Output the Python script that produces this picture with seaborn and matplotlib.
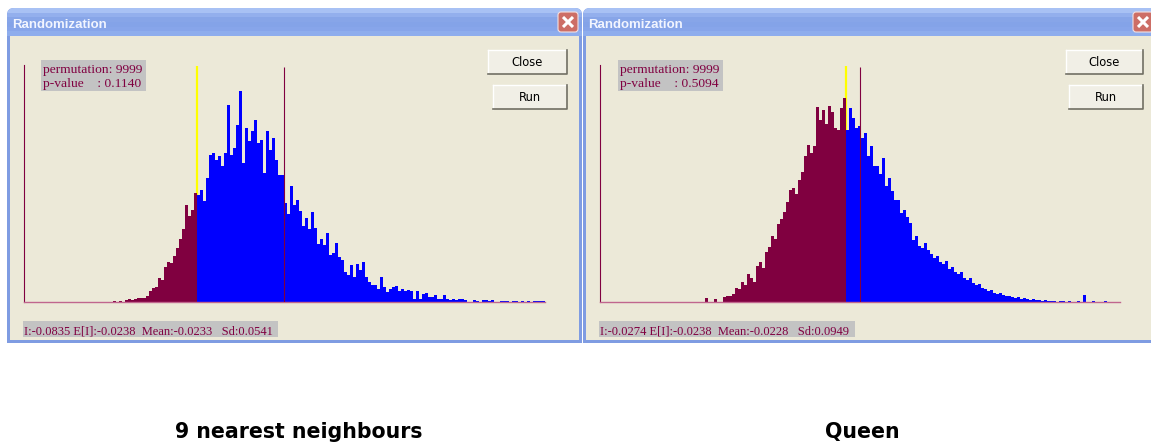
import numpy as np
import pandas as pd
import matplotlib
matplotlib.use("Agg")
import matplotlib.pyplot as plt
import seaborn as sns
from matplotlib.patches import Rectangle, FancyBboxPatch

# ---------------- data (bin counts) ----------------
# Left window: "9 nearest neighbours"
left_below = [1, 0, 1, 0, 2, 3, 2, 3, 4, 4, 4, 6, 11, 14, 15, 24, 22, 35, 40, 39,
              46, 54, 63, 73, 97, 86, 92, 109]
left_above = [107, 112, 101, 124, 147, 149, 142, 146, 136, 149, 197, 147, 154, 177, 211, 139,
              174, 161, 171, 182, 159, 162, 129, 171, 152, 164, 142, 127, 127, 99, 88, 116,
              97, 102, 91, 76, 84, 73, 90, 74, 58, 63, 57, 69, 47, 49, 59, 45, 42, 30,
              27, 37, 25, 38, 32, 40, 25, 20, 17, 17, 13, 25, 15, 10, 13, 15, 16, 11,
              13, 11, 12, 11, 3, 11, 3, 8, 9, 5, 5, 7, 3, 3, 7, 3, 2, 3, 2, 3, 3, 2,
              0, 0, 2, 1, 0, 2, 2, 1, 2, 0, 0, 1, 1, 1, 0, 1, 1, 0, 1, 0, 1, 0, 1, 1, 1, 1]
left_obs_bin = 28.0      # observed I (yellow line)
left_ref_bin = 57.0      # reference line (dark red)

# Right window: "Queen"
right_below = [4, 0, 0, 3, 0, 0, 5, 6, 6, 8, 14, 13, 20, 17, 28, 24, 20, 36, 40, 34,
               50, 55, 66, 63, 78, 83, 90, 100, 112, 114, 108, 122, 130, 146, 157, 149,
               156, 195, 182, 192, 178, 196, 190, 174, 172, 194, 204]
right_above = [172, 194, 184, 174, 176, 164, 169, 146, 156, 136, 136, 128, 144, 116, 124,
               111, 102, 102, 89, 92, 85, 79, 62, 66, 56, 54, 59, 52, 48, 44, 46, 40, 38,
               41, 33, 35, 30, 28, 30, 24, 22, 24, 19, 17, 18, 14, 13, 11, 12, 9, 8, 9,
               7, 6, 6, 5, 4, 5, 3, 4, 3, 2, 3, 2, 2, 1, 2, 1, 1, 1, 0, 1, 1, 0, 1, 0,
               0, 1, 0, 7, 0, 0, 1, 0, 0, 0, 1, 0, 0, 0, 0]
right_obs_bin = 47.0
right_ref_bin = 51.67

window_titles = ["Randomization", "Randomization"]
perm_texts = ["permutation: 9999\np-value    : 0.1140",
              "permutation: 9999\np-value    : 0.5094"]
stat_texts = ["I:-0.0835 E[I]:-0.0238  Mean:-0.0233   Sd:0.0541",
              "I:-0.0274 E[I]:-0.0238  Mean:-0.0228   Sd:0.0949"]
button_labels = ["Close", "Run"]
captions = ["9 nearest neighbours", "Queen"]

# ---------------- style ----------------
MAROON = "#800040"
BLUE = "#0000FF"
BODY = "#ECE9D8"
FRAME = "#7F9CE2"

W, H = 1151, 444
fig = plt.figure(figsize=(W / 100, H / 100), dpi=100)
fig.patch.set_facecolor("white")
bg = fig.add_axes([0, 0, 1, 1])
bg.set_xlim(0, W)
bg.set_ylim(H, 0)
bg.axis("off")

grad = np.array([[0.66, 0.76, 0.96], [0.58, 0.69, 0.93], [0.53, 0.65, 0.91],
                 [0.52, 0.64, 0.91], [0.53, 0.65, 0.92], [0.56, 0.68, 0.93]])
grad = grad[:, None, :]


def draw_window(x0, x1, idx, close_x, close_btn_x, run_btn_x, btn_right, box_x, stat_x, stat_w):
    y0, y1 = 8, 343
    frame = FancyBboxPatch((x0, y0), x1 - x0, 40, boxstyle="round,pad=0,rounding_size=7",
                           fc=FRAME, ec="none")
    bg.add_patch(frame)
    bg.add_patch(Rectangle((x0, y0 + 20), x1 - x0, y1 - y0 - 20, fc=FRAME, ec="none"))
    im = bg.imshow(grad, extent=(x0, x1, 36, y0), aspect="auto", zorder=1)
    im.set_clip_path(frame)
    bg.add_patch(Rectangle((x0 + 3, 36), x1 - x0 - 6, y1 - 36 - 3, fc=BODY, ec="none", zorder=2))
    bg.text(x0 + 5, 28, window_titles[idx], color="#F2F5FF", fontsize=9.5, fontweight="bold",
            family="Liberation Sans", va="baseline", ha="left", zorder=3)
    # close "X" button
    bg.add_patch(FancyBboxPatch((close_x, 12), 20, 20, boxstyle="round,pad=0,rounding_size=3",
                                fc="#CD6E66", ec="#F4E0E0", lw=0.8, zorder=3))
    bg.plot([close_x + 5, close_x + 15], [17, 27], color="white", lw=2.2, zorder=4,
            solid_capstyle="butt")
    bg.plot([close_x + 5, close_x + 15], [27, 17], color="white", lw=2.2, zorder=4,
            solid_capstyle="butt")
    # Close / Run buttons
    for bx, by, lab in [(close_btn_x, 50, button_labels[0]), (run_btn_x, 85, button_labels[1])]:
        bw, bh = btn_right - bx, 24
        bg.add_patch(Rectangle((bx, by), bw, bh, fc="#F1EFE6", ec="none", zorder=3))
        bg.plot([bx, bx + bw], [by, by], color="white", lw=1, zorder=4)
        bg.plot([bx, bx], [by, by + bh], color="white", lw=1, zorder=4)
        bg.plot([bx, bx + bw, bx + bw], [by + bh, by + bh, by], color="#716F64", lw=1.2, zorder=4)
        bg.text(bx + bw / 2, by + bh / 2 + 0.5, lab, fontsize=8.3, family="DejaVu Sans",
                color="black", ha="center", va="center", zorder=5)
    # permutation box
    bg.add_patch(Rectangle((box_x, 60), 105, 31, fc="#C3C3C3", ec="none", zorder=3))
    l1, l2 = perm_texts[idx].split("\n")
    bg.text(box_x + 2, 72.5, l1, fontsize=9.7, family="Liberation Serif", color=MAROON,
            va="baseline", zorder=4)
    bg.text(box_x + 2, 87, l2, fontsize=9.7, family="Liberation Serif", color=MAROON,
            va="baseline", zorder=4)
    # stats box
    bg.add_patch(Rectangle((stat_x, 321), stat_w, 16, fc="#C3C3C3", ec="none", zorder=3))
    bg.text(stat_x + 1, 334, stat_texts[idx], fontsize=9.0, family="Liberation Serif",
            color=MAROON, va="baseline", zorder=4)


draw_window(7, 582, 0, 558, 488, 493, 567, 41, 23, 255)
draw_window(583, 1160, 1, 1133, 1066, 1069, 1143, 618, 599, 256)

for cx, txt in zip([299, 862], captions):
    bg.text(cx, 437.5, txt, fontsize=14.8, fontweight="bold", family="DejaVu Sans",
            ha="center", va="baseline", color="black")


def draw_hist(x_left_px, x_right_px, start_px, below, above, obs, ref):
    ax = fig.add_axes([x_left_px / W, (H - 302) / H, (x_right_px - x_left_px) / W, (302 - 65) / H])
    ax.patch.set_alpha(0)
    nb, na = len(below), len(above)
    df_b = pd.DataFrame({"bin": np.arange(nb) + 0.5, "count": below})
    df_a = pd.DataFrame({"bin": np.arange(nb, nb + na) + 0.5, "count": above})
    sns.histplot(data=df_b, x="bin", weights="count", bins=nb, binrange=(0, nb),
                 color=MAROON, alpha=1, linewidth=0, antialiased=False, ax=ax, zorder=2)
    sns.histplot(data=df_a, x="bin", weights="count", bins=na, binrange=(nb, nb + na),
                 color=BLUE, alpha=1, linewidth=0, antialiased=False, ax=ax, zorder=2)
    ax.set_xlim((x_left_px - start_px) / 3, (x_right_px - start_px) / 3)
    ax.set_ylim(0, 237)
    ax.vlines(obs, 0, 236, color="#FFFF00", lw=1.6, zorder=1)
    ax.vlines(ref, 0, 235, color=MAROON, lw=0.8, zorder=3)
    for s in ["top", "right"]:
        ax.spines[s].set_visible(False)
    ax.spines["left"].set_color(MAROON)
    ax.spines["left"].set_linewidth(0.8)
    ax.spines["bottom"].set_color("#C0668E")
    ax.spines["bottom"].set_linewidth(1.0)
    ax.set_xticks([])
    ax.set_yticks([])
    ax.set_xlabel("")
    ax.set_ylabel("")
    return ax


draw_hist(24, 545, 113, left_below, left_above, left_obs_bin, left_ref_bin)
draw_hist(600, 1120, 705, right_below, right_above, right_obs_bin, right_ref_bin)

fig.savefig("out.png", dpi=100, facecolor="white")
